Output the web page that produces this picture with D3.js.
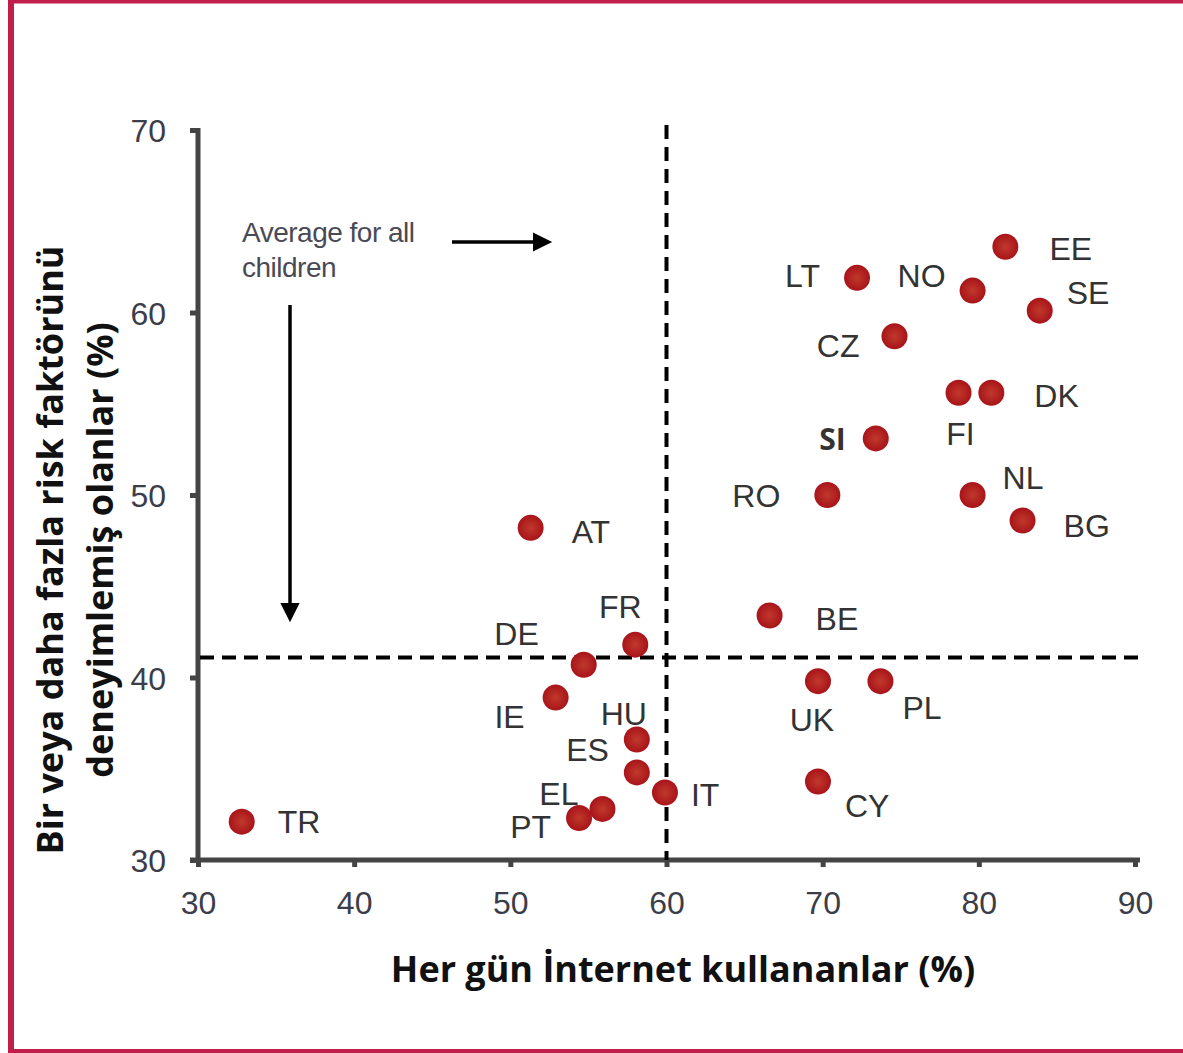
<!DOCTYPE html>
<html>
<head>
<meta charset="utf-8">
<script src="https://cdn.jsdelivr.net/npm/d3@7"></script>
<style>
  body { margin: 0; background: #fff; }
  svg text { font-family: "Liberation Sans", Arial, sans-serif; }
  .axis path, .axis line { stroke: #444; stroke-width: 5; }
  .axis text { font-size: 32px; fill: #3b3d4a; }
  .title { font-family: "Open Sans", "Noto Sans", sans-serif !important; font-weight: 700; font-size: 36px; fill: #111; }
</style>
</head>
<body>
<div id="chart"></div>
<script>
// countries and their values (x: daily internet use %, y: no risk factor %)
const countries = ['TR', 'AT', 'DE', 'FR', 'IE', 'HU', 'ES', 'EL', 'PT', 'IT',
  'BE', 'UK', 'PL', 'CY', 'RO', 'SI', 'CZ', 'LT', 'NO', 'EE', 'SE', 'FI', 'DK', 'NL', 'BG'];
const dailyUse = [32.8, 51.3, 54.7, 58.0, 52.9, 58.1, 58.1, 55.9, 54.4, 59.9,
  66.6, 69.7, 73.7, 69.7, 70.3, 73.4, 74.6, 72.2, 79.6, 81.7, 83.9, 78.7, 80.8, 79.6, 82.8];
const noRisk = [32.1, 48.2, 40.7, 41.8, 38.9, 36.6, 34.8, 32.8, 32.3, 33.7,
  43.4, 39.8, 39.8, 34.3, 50.0, 53.1, 58.7, 61.9, 61.2, 63.6, 60.1, 55.6, 55.6, 50.0, 48.6];
const avgUse = 60;
const avgNoRisk = 41.1;
const xTicks = [30, 40, 50, 60, 70, 80, 90];
const yTicks = [30, 40, 50, 60, 70];

// where each country label sits relative to its dot
const labelPos = {
  TR: [36, 11, 'start'], AT: [41, 15, 'start'], DE: [-45, -20, 'end'], FR: [-15, -27, 'middle'],
  IE: [-31, 30, 'end'], HU: [-13, -15, 'middle'], ES: [-28, -11, 'end'], EL: [-24, -4, 'end'],
  PT: [-28, 20, 'end'], IT: [26, 14, 'start'], BE: [46, 15, 'start'], UK: [-6, 50, 'middle'],
  PL: [22, 38, 'start'], CY: [27, 35, 'start'], RO: [-47, 12, 'end'], SI: [-30, 12, 'end'],
  CZ: [-35, 21, 'end'], LT: [-37, 9, 'end'], NO: [-27, -4, 'end'], EE: [44, 13, 'start'],
  SE: [27, -7, 'start'], FI: [2, 52, 'middle'], DK: [43, 14, 'start'], NL: [30, -6, 'start'],
  BG: [41, 16, 'start']
};

const width = 1183, height = 1053;
const svg = d3.select('#chart').append('svg')
  .attr('width', width).attr('height', height);

// frame
svg.append('rect').attr('x', 8).attr('y', 0).attr('width', width - 8).attr('height', 3.5).attr('fill', '#c01f4b');
svg.append('rect').attr('x', 8).attr('y', 0).attr('width', 6).attr('height', height).attr('fill', '#c01f4b');
svg.append('rect').attr('x', 8).attr('y', height - 4).attr('width', width - 8).attr('height', 4).attr('fill', '#c01f4b');

const x = d3.scaleLinear().domain([30, 90]).range([198, 1135]);
const y = d3.scaleLinear().domain([30, 70]).range([860, 130]);

// axes
const gx = svg.append('g').attr('class', 'axis')
  .attr('transform', `translate(0,${y(30)})`)
  .call(d3.axisBottom(x).tickValues(xTicks).tickSize(7).tickSizeOuter(0).tickPadding(24));
gx.select('.domain').attr('d', `M${x(30) - 8},0H${x(90) + 5}`);
gx.selectAll('.tick line').attr('stroke-width', 4);

const gy = svg.append('g').attr('class', 'axis')
  .attr('transform', `translate(${x(30)},0)`)
  .call(d3.axisLeft(y).tickValues(yTicks).tickSize(8).tickSizeOuter(0).tickPadding(24));
gy.select('.domain').attr('d', `M0,${y(70) - 2}V${y(30) + 2}`);
gy.selectAll('.tick line').attr('stroke-width', 4);
gy.selectAll('.tick text').attr('dy', '0.36em');

// average lines
svg.append('line')
  .attr('x1', x(avgUse)).attr('x2', x(avgUse))
  .attr('y1', y(70) - 5).attr('y2', y(30))
  .attr('stroke', '#000').attr('stroke-width', 4).attr('stroke-dasharray', '14,8');
svg.append('line')
  .attr('x1', x(30) + 2).attr('x2', x(90) + 5)
  .attr('y1', y(avgNoRisk)).attr('y2', y(avgNoRisk))
  .attr('stroke', '#000').attr('stroke-width', 4).attr('stroke-dasharray', '14,8');

// annotation
const defs = svg.append('defs');
defs.append('marker').attr('id', 'head')
  .attr('viewBox', '0 0 10 10').attr('refX', 0).attr('refY', 5)
  .attr('markerWidth', 24).attr('markerHeight', 24).attr('markerUnits', 'userSpaceOnUse')
  .attr('orient', 'auto')
  .append('path').attr('d', 'M0,1L8,5L0,9Z').attr('fill', '#000');
const note = svg.append('text').attr('x', 242).attr('y', 242)
  .attr('font-size', 28).attr('fill', '#4a4a55').attr('letter-spacing', -0.5);
note.append('tspan').attr('x', 242).text('Average for all');
note.append('tspan').attr('x', 242).attr('dy', 35).text('children');
svg.append('line').attr('x1', 452).attr('y1', 242).attr('x2', 533).attr('y2', 242)
  .attr('stroke', '#000').attr('stroke-width', 3.5).attr('marker-end', 'url(#head)');
svg.append('line').attr('x1', 290).attr('y1', 305).attr('x2', 290).attr('y2', 603)
  .attr('stroke', '#000').attr('stroke-width', 3.5).attr('marker-end', 'url(#head)');

// dots
const grad = defs.append('radialGradient').attr('id', 'dot');
grad.append('stop').attr('offset', '0%').attr('stop-color', '#c0392b');
grad.append('stop').attr('offset', '100%').attr('stop-color', '#a8141a');

const data = countries.map((c, i) => ({ c, xv: dailyUse[i], yv: noRisk[i] }));
svg.append('g').selectAll('circle').data(data).join('circle')
  .attr('cx', d => x(d.xv)).attr('cy', d => y(d.yv))
  .attr('r', 13).attr('fill', 'url(#dot)');

svg.append('g').selectAll('text').data(data).join('text')
  .attr('x', d => x(d.xv) + labelPos[d.c][0])
  .attr('y', d => y(d.yv) + labelPos[d.c][1])
  .attr('text-anchor', d => labelPos[d.c][2])
  .attr('font-size', d => d.c === 'SI' ? 30 : 32)
  .attr('font-weight', d => d.c === 'SI' ? 700 : 400)
  .attr('fill', '#333')
  .style('font-family', d => d.c === 'SI' ? '"Open Sans", sans-serif' : null)
  .text(d => d.c);

// axis titles
svg.append('text').attr('class', 'title')
  .attr('x', 683).attr('y', 982).attr('text-anchor', 'middle')
  .text('Her gün İnternet kullananlar (%)');
const yt = svg.append('text').attr('class', 'title')
  .attr('transform', 'translate(63,550) rotate(-90)').attr('text-anchor', 'middle');
yt.append('tspan').attr('x', 0).attr('y', 0).text('Bir veya daha fazla risk faktörünü');
yt.append('tspan').attr('x', 0).attr('y', 50).text('deneyimlemiş olanlar (%)');
</script>
</body>
</html>
